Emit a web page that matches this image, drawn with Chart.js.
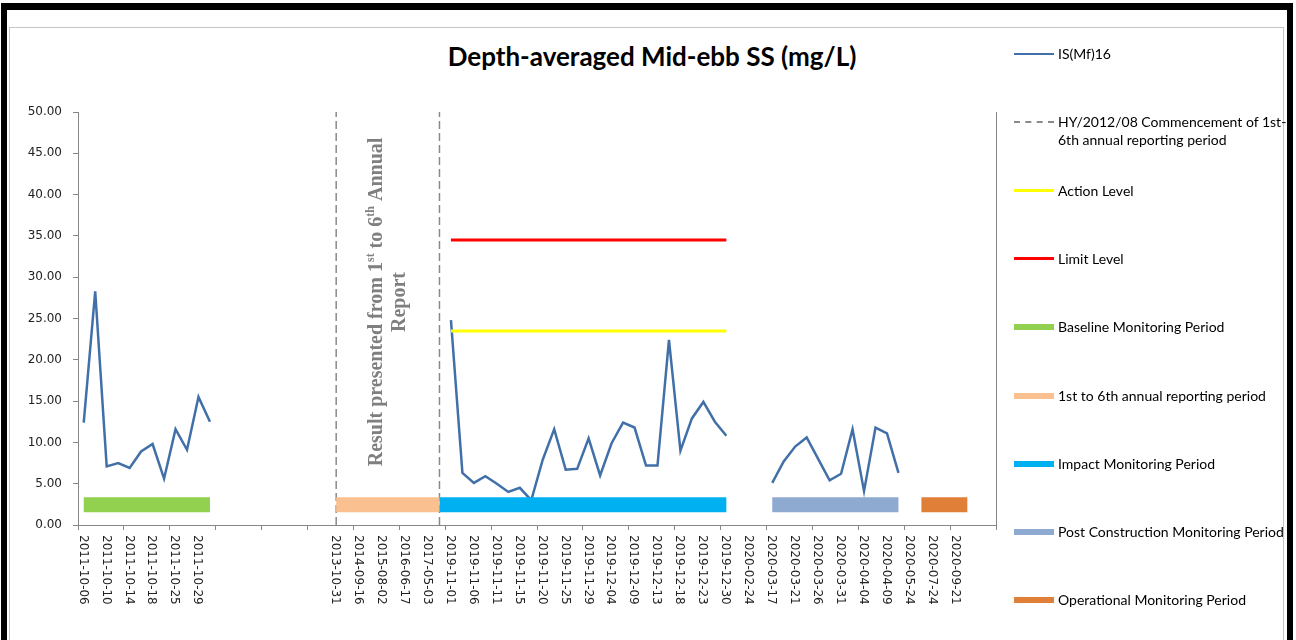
<!DOCTYPE html>
<html>
<head>
<meta charset="utf-8">
<title>Depth-averaged Mid-ebb SS (mg/L)</title>
<script src="https://cdn.jsdelivr.net/npm/chart.js@4.4.1/dist/chart.umd.min.js"></script>
<style>
  body { margin: 0; width: 1296px; height: 640px; overflow: hidden; background: #fff; position: relative; }
  #frame { position: absolute; left: 1px; top: 3px; width: 1292px; height: 700px; box-sizing: border-box;
           border-left: 6px solid #000; border-top: 7px solid #000; border-right: 6px solid #000; }
  #inner { position: absolute; left: 9px; top: 27px; width: 1273px; height: 700px; border: 1px solid #c4c4c4; }
  #title { position: absolute; left: 8px; top: 40px; width: 1288px; text-align: center;
           font: bold 26px Lato, "Open Sans", sans-serif; color: #000; }
  #wrap { position: absolute; left: 0; top: 0; width: 1296px; height: 640px; }
  #legend { position: absolute; left: 0; top: 0; margin: 0; padding: 0; list-style: none;
            font: 14px Lato, "Open Sans", sans-serif; color: #000; }
  #legend li { position: absolute; left: 1014px; width: 280px; line-height: 18px; white-space: nowrap; }
  #legend .swatch { position: absolute; left: 0; top: 9px; width: 40px; }
  #legend .text { position: absolute; left: 44px; top: 0; }
</style>
</head>
<body>
<div id="frame"></div>
<div id="inner"></div>
<div id="title">Depth-averaged Mid-ebb SS (mg/L)</div>
<div id="wrap"><canvas id="chart"></canvas></div>
<ul id="legend"></ul>
<script>
// one label for every second category, blanks where the sheet shows none
const tickLabels = [
  '2011-10-06', '2011-10-10', '2011-10-14', '2011-10-18', '2011-10-25', '2011-10-29',
  '', '', '', '', '',
  '2013-10-31', '2014-09-16', '2015-08-02', '2016-06-17', '2017-05-03',
  '2019-11-01', '2019-11-06', '2019-11-11', '2019-11-15', '2019-11-20', '2019-11-25',
  '2019-11-29', '2019-12-04', '2019-12-09', '2019-12-13', '2019-12-18', '2019-12-23',
  '2019-12-30', '2020-02-24', '2020-03-17', '2020-03-21', '2020-03-26', '2020-03-31',
  '2020-04-04', '2020-04-09', '2020-05-24', '2020-07-24', '2020-09-21', ''
];
const categories = tickLabels.flatMap(l => [l, '']);

const baselineValues = [12.4, 28.3, 7.1, 7.5, 6.9, 8.9, 9.8, 5.6, 11.6, 9.1, 15.5, 12.5];
const impactValues = [24.8, 6.3, 5.1, 5.9, 5.0, 4.0, 4.5, 3.0, 7.9, 11.6, 6.7, 6.8, 10.5,
                      6.0, 9.9, 12.4, 11.8, 7.2, 7.2, 22.4, 9.0, 12.9, 14.9, 12.5, 10.8];
const postValues = [5.1, 7.7, 9.5, 10.6, 8.0, 5.4, 6.2, 11.6, 4.1, 11.8, 11.1, 6.3];

const actionLevel = 23.5;
const limitLevel = 34.5;

// category index ranges [first, last]
const baselinePeriod = [0, 11];
const annualPeriod = [22, 31];
const impactPeriod = [31, 56];
const postPeriod = [60, 71];
const operationalPeriod = [73, 77];
const levelRange = [32, 56];
const periodBarLevel = 2.45;

// HY/2012/08 commencement markers (category index)
const commencementIdx = [22, 31];

const noteLines = [
  [['Result presented from 1'], ['st', 1], [' to 6'], ['th', 1], [' Annual']],
  [['Report']]
];

const fill = (values, start) => {
  const out = new Array(categories.length).fill(null);
  values.forEach((v, i) => { out[start + i] = v; });
  return out;
};
const band = (range, value) => {
  const out = new Array(categories.length).fill(null);
  for (let i = range[0]; i <= range[1]; i++) out[i] = value;
  return out;
};

const mainSeries = fill(baselineValues, categories.indexOf('2011-10-06'));
fill(impactValues, categories.indexOf('2019-11-01')).forEach((v, i) => { if (v !== null) mainSeries[i] = v; });
fill(postValues, categories.indexOf('2020-03-17')).forEach((v, i) => { if (v !== null) mainSeries[i] = v; });

const commencementData = [];
commencementIdx.forEach((c, k) => {
  if (k > 0) commencementData.push({ x: c, y: null });
  commencementData.push({ x: c, y: 0 }, { x: c, y: 50 });
});

const axisGrey = '#868686';
const textDark = '#222';
const tickFont = '12px "DejaVu Sans"';

const barSet = (label, range, color) => ({
  label, data: band(range, periodBarLevel), borderColor: color, backgroundColor: color,
  borderWidth: 15, borderCapStyle: 'butt', pointRadius: 0, order: 0, legendWidth: 6
});

// x labels read top-to-bottom, which Chart.js rotation can't do
const xLabelPlugin = {
  id: 'xLabels',
  afterDraw(chart) {
    const { ctx, scales: { x } } = chart;
    ctx.save();
    ctx.font = tickFont;
    ctx.fillStyle = textDark;
    ctx.textAlign = 'left';
    ctx.textBaseline = 'middle';
    categories.forEach((lab, i) => {
      if (!lab) return;
      ctx.save();
      ctx.translate(x.getPixelForValue(i) - 1, x.top + 10);
      ctx.rotate(Math.PI / 2);
      ctx.fillText(lab, 0, 0);
      ctx.restore();
    });
    ctx.restore();
  }
};

const drawRich = (ctx, parts, y) => {
  const big = 'bold 20px "Liberation Serif"';
  const small = 'bold 12px "Liberation Serif"';
  let total = 0;
  parts.forEach(([t, sup]) => { ctx.font = sup ? small : big; total += ctx.measureText(t).width; });
  let px = -total / 2;
  parts.forEach(([t, sup]) => {
    ctx.font = sup ? small : big;
    ctx.fillText(t, px, sup ? y - 6 : y);
    px += ctx.measureText(t).width;
  });
};

const notePlugin = {
  id: 'note',
  afterDatasetsDraw(chart) {
    const { ctx, scales: { x, y } } = chart;
    const cx = (x.getPixelForValue(annualPeriod[0]) + x.getPixelForValue(annualPeriod[1])) / 2 + 1;
    const cy = y.getPixelForValue(27.0);
    ctx.save();
    ctx.translate(cx, cy);
    ctx.rotate(-Math.PI / 2);
    ctx.fillStyle = '#7f7f7f';
    ctx.textAlign = 'left';
    ctx.textBaseline = 'middle';
    drawRich(ctx, noteLines[0], -11.5);
    drawRich(ctx, noteLines[1], 11.5);
    ctx.restore();
  }
};

const chart = new Chart(document.getElementById('chart'), {
  type: 'line',
  data: {
    labels: categories,
    datasets: [
      { label: 'IS(Mf)16', data: mainSeries, borderColor: '#4170a8', backgroundColor: '#4170a8',
        borderWidth: 2.5, pointRadius: 0, tension: 0, order: 3, legendWidth: 2 },
      { label: ['HY/2012/08 Commencement of 1st-', '6th annual reporting period'], data: commencementData,
        xAxisID: 'x2', borderColor: '#8a8a8a', backgroundColor: '#8a8a8a', borderWidth: 1.5,
        borderDash: [8, 4], pointRadius: 0, order: 1, legendWidth: 2, legendDash: true },
      { label: 'Action Level', data: band(levelRange, actionLevel),
        borderColor: '#ffff00', backgroundColor: '#ffff00', borderWidth: 3, pointRadius: 0, order: 1, legendWidth: 3 },
      { label: 'Limit Level', data: band(levelRange, limitLevel),
        borderColor: '#ff0000', backgroundColor: '#ff0000', borderWidth: 3, pointRadius: 0, order: 1, legendWidth: 3 },
      barSet('Baseline Monitoring Period', baselinePeriod, '#92d050'),
      barSet('1st to 6th annual reporting period', annualPeriod, '#fac090'),
      barSet('Impact Monitoring Period', impactPeriod, '#00b0f0'),
      barSet('Post Construction Monitoring Period', postPeriod, '#8eaad0'),
      barSet('Operational Monitoring Period', operationalPeriod, '#df7f38')
    ]
  },
  options: {
    responsive: true,
    maintainAspectRatio: false,
    animation: false,
    layout: { padding: { left: 18, right: 300, top: 112, bottom: 15 } },
    plugins: { legend: { display: false }, title: { display: false }, tooltip: { enabled: false } },
    scales: {
      x: {
        type: 'category',
        offset: true,
        grid: {
          offset: true, drawOnChartArea: false, tickLength: 5,
          color: (c) => (c.index === undefined || c.index % 4 === 0) ? axisGrey : 'rgba(0,0,0,0)'
        },
        border: { color: axisGrey },
        ticks: { display: false },
        afterFit: (s) => { s.height = 100; }
      },
      x2: { type: 'linear', display: false, min: -0.5, max: categories.length - 0.5 },
      y: {
        min: 0, max: 50,
        grid: { drawOnChartArea: false, tickLength: 5, color: axisGrey },
        border: { color: axisGrey },
        ticks: { stepSize: 5, padding: 11, color: textDark, font: { family: 'DejaVu Sans', size: 12 },
                 callback: (v) => v.toFixed(2) },
        afterFit: (s) => { s.width = 60; }
      },
      y2: {
        position: 'right', min: 0, max: 50,
        grid: { drawOnChartArea: false, drawTicks: false },
        border: { color: axisGrey },
        ticks: { display: false },
        afterFit: (s) => { s.width = 0; }
      }
    }
  },
  plugins: [xLabelPlugin, notePlugin]
});

// legend on the right, one row every ~68 px
const legendEl = document.getElementById('legend');
chart.data.datasets.forEach((ds, k) => {
  const li = document.createElement('li');
  li.style.top = (54 + k * 68.3 - 9) + 'px';
  const sw = document.createElement('span');
  sw.className = 'swatch';
  sw.style.borderTop = ds.legendWidth + 'px ' + (ds.legendDash ? 'dashed ' : 'solid ') + ds.borderColor;
  sw.style.marginTop = (-ds.legendWidth / 2) + 'px';
  const tx = document.createElement('span');
  tx.className = 'text';
  tx.innerHTML = Array.isArray(ds.label) ? ds.label.join('<br>') : ds.label;
  li.appendChild(sw);
  li.appendChild(tx);
  legendEl.appendChild(li);
});
</script>
</body>
</html>
